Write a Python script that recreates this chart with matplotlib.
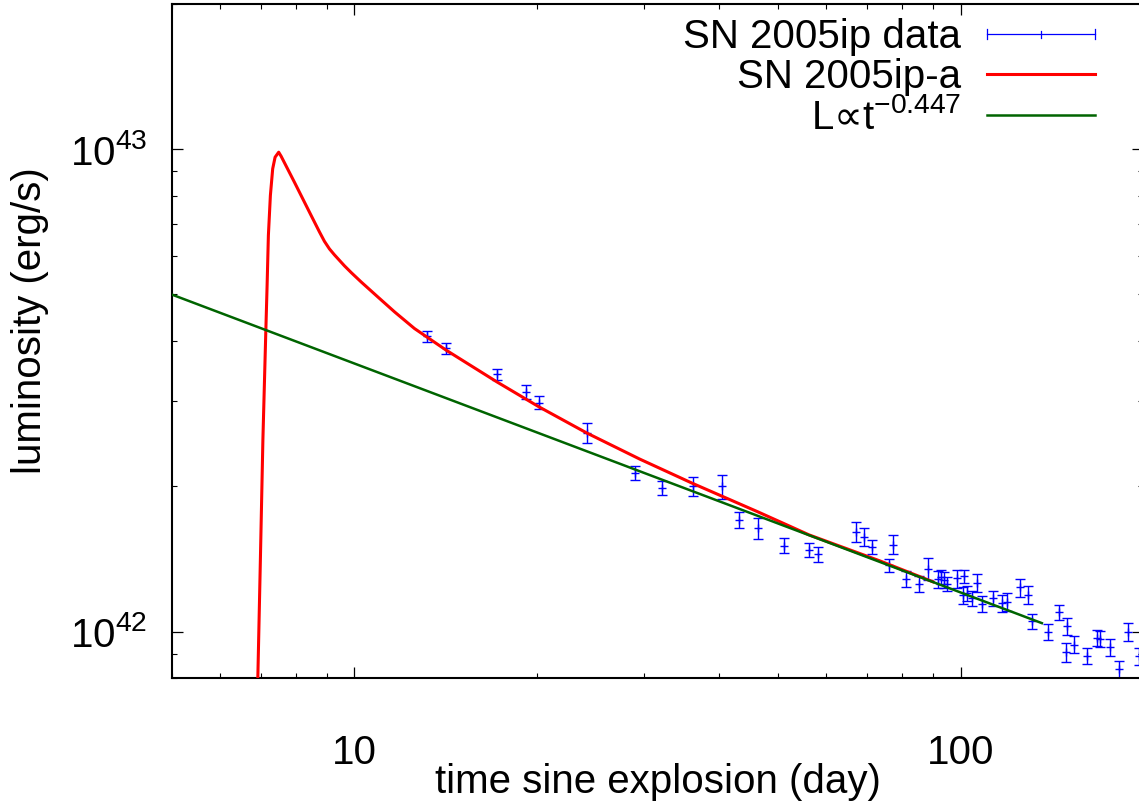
import matplotlib
matplotlib.use('Agg')
import matplotlib.pyplot as plt
import matplotlib.ticker as mticker
from matplotlib.legend_handler import HandlerBase
from matplotlib.lines import Line2D
from matplotlib.container import ErrorbarContainer

plt.rcParams['font.family'] = ['Liberation Sans', 'DejaVu Sans']
plt.rcParams['mathtext.fontset'] = 'custom'
plt.rcParams['mathtext.rm'] = 'Liberation Sans'
plt.rcParams['mathtext.it'] = 'Liberation Sans:italic'
plt.rcParams['mathtext.bf'] = 'Liberation Sans:bold'
plt.rcParams['mathtext.sf'] = 'DejaVu Sans'
plt.rcParams['mathtext.default'] = 'regular'

# ---------------- data ----------------
# observed light curve: days since explosion, luminosity (1e42 erg/s), error (1e42 erg/s)
t_obs = [13.19, 14.17, 17.18, 19.16, 20.16, 24.19, 29.08, 32.14, 36.12, 40.42,
         43.13, 46.25, 51.17, 56.27, 58.23, 67.21, 69.37, 71.35, 76.28, 77.27,
         81.28, 85.40, 88.47, 91.69, 92.86, 93.92, 95.11, 98.56, 101.3, 101.0,
         102.4, 104.3, 106.4, 108.4, 113.3, 117.0, 119.4, 125.4, 129.4, 131.4,
         139.6, 145.4, 149.8, 149.0, 153.6, 161.6, 168.2, 170.0, 176.6, 182.9,
         188.6, 197.2]
L_obs = [4.095, 3.864, 3.414, 3.144, 2.982, 2.585, 2.136, 1.986, 2.000, 2.001,
         1.703, 1.638, 1.506, 1.476, 1.445, 1.609, 1.571, 1.499, 1.371, 1.515,
         1.286, 1.257, 1.350, 1.283, 1.298, 1.280, 1.256, 1.289, 1.301, 1.188,
         1.202, 1.171, 1.260, 1.141, 1.173, 1.145, 1.152, 1.235, 1.193, 1.050,
         0.998, 1.096, 1.026, 0.906, 0.940, 0.891, 0.970, 0.966, 0.927, 0.835,
         0.998, 0.888]
L_err = [0.113, 0.107, 0.094, 0.102, 0.092, 0.123, 0.071, 0.066, 0.093, 0.115,
         0.063, 0.084, 0.054, 0.051, 0.054, 0.077, 0.067, 0.050, 0.044, 0.069,
         0.049, 0.048, 0.071, 0.054, 0.046, 0.046, 0.042, 0.055, 0.043, 0.050,
         0.043, 0.042, 0.054, 0.044, 0.042, 0.045, 0.049, 0.053, 0.050, 0.040,
         0.039, 0.039, 0.043, 0.040, 0.039, 0.035, 0.037, 0.035, 0.037, 0.035,
         0.044, 0.035]

# model light curve SN 2005ip-a (days, 1e42 erg/s)
t_model = [6.915, 6.995, 7.062, 7.138, 7.176, 7.211, 7.266, 7.330, 7.397, 7.499,
           7.568, 7.960, 8.482, 8.754, 8.923, 9.093, 9.268, 9.446, 9.627, 9.887,
           10.26, 10.93, 11.65, 12.56, 14.17, 17.18, 20.16, 24.19, 29.56, 36.12,
           46.25, 56.27, 73.63, 90.06]
L_model = [0.722, 1.408, 2.494, 4.115, 5.220, 6.628, 8.020, 9.108, 9.626, 9.858,
           9.672, 8.545, 7.290, 6.740, 6.441, 6.214, 6.039, 5.883, 5.731, 5.543,
           5.305, 4.939, 4.598, 4.249, 3.831, 3.293, 2.923, 2.579, 2.278, 2.029,
           1.772, 1.586, 1.401, 1.268]

# power-law fit L ~ t^-0.447 (end points, days and 1e42 erg/s)
t_fit = [5.0, 136.2]
L_fit = [4.995, 1.041]

unit = 1e42
x_ticks = [10, 100]
x_tick_labels = ['10', '100']
labels = ['SN 2005ip data', 'SN 2005ip-a', 'L$\\mathsf{\u221d}$t$^{-0.447}$']

# ---------------- figure ----------------
fig = plt.figure(figsize=(11.39, 8.05), dpi=100)
ax = fig.add_axes([172 / 1139, (805 - 678.3) / 805, 971 / 1139, 674.3 / 805])
ax.set_xscale('log')
ax.set_yscale('log')

eb = ax.errorbar(t_obs, [v * unit for v in L_obs], yerr=[e * unit for e in L_err],
                 fmt='+', color='#0000ff', ecolor='#0000ff', ms=6, mew=1.0,
                 elinewidth=1.0, capsize=3.6, capthick=1.0, zorder=2)
red, = ax.plot(t_model, [v * unit for v in L_model], color='#ff0000', lw=2.2,
               zorder=3, solid_joinstyle='round')
green, = ax.plot(t_fit, [v * unit for v in L_fit], color='#006400', lw=1.8, zorder=4)

ax.set_xlim(5, 200)
ax.set_ylim(8e41, 2e43)

ax.set_xticks(x_ticks)
ax.set_xticklabels(x_tick_labels)
ax.xaxis.set_minor_locator(mticker.LogLocator(base=10, subs=range(2, 10)))
ax.xaxis.set_minor_formatter(mticker.NullFormatter())
ax.yaxis.set_major_locator(mticker.LogLocator(base=10))
ax.yaxis.set_minor_locator(mticker.LogLocator(base=10, subs=range(2, 10)))
ax.yaxis.set_minor_formatter(mticker.NullFormatter())

ax.tick_params(which='both', direction='in', top=True, right=True, labelsize=29,
               colors='black')
ax.tick_params(which='major', length=7.7, width=0.9)
ax.tick_params(which='minor', length=3.8, width=0.8)
ax.tick_params(axis='x', which='major', pad=40)
ax.tick_params(axis='y', which='major', pad=18)
for s in ax.spines.values():
    s.set_linewidth(1.5)
    s.set_color('black')

ax.set_xlabel('time sine explosion (day)', fontsize=29)
ax.set_ylabel('luminosity (erg/s)', fontsize=29)
ax.xaxis.set_label_coords(0.5, -0.126)
ax.yaxis.set_label_coords(-0.127, 0.531)


class HandlerGnuErr(HandlerBase):
    def create_artists(self, legend, orig_handle, xdescent, ydescent, width,
                       height, fontsize, trans):
        y = height / 2.0 - ydescent
        x0 = -xdescent
        x1 = -xdescent + width
        xm = 0.5 * (x0 + x1)
        cap, mid = 3.6, 2.5
        arts = [Line2D([x0, x1], [y, y]),
                Line2D([x0, x0], [y - cap, y + cap]),
                Line2D([x1, x1], [y - cap, y + cap]),
                Line2D([xm, xm], [y - mid, y + mid])]
        for a in arts:
            a.set_color('#0000ff')
            a.set_linewidth(0.9)
            a.set_transform(trans)
        return arts


leg = ax.legend([eb, red, green], labels, loc='upper right',
                bbox_to_anchor=(0.9506, 0.979), borderaxespad=0, borderpad=0,
                frameon=False, markerfirst=False, handlelength=2.68,
                handletextpad=0.645, labelspacing=0.05, fontsize=29,
                handler_map={ErrorbarContainer: HandlerGnuErr()})

fig.savefig('out.png', dpi=100)
